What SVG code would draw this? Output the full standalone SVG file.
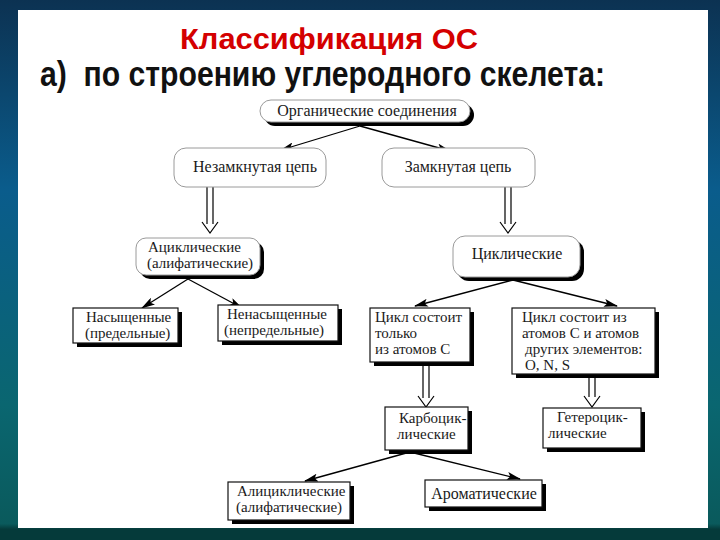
<svg xmlns="http://www.w3.org/2000/svg" width="720" height="540" viewBox="0 0 720 540">
<defs>
<linearGradient id="bg" x1="0" y1="0" x2="0" y2="1">
<stop offset="0" stop-color="#0c3252"/>
<stop offset="0.35" stop-color="#0a5c8c"/>
<stop offset="0.75" stop-color="#0a6670"/>
<stop offset="0.97" stop-color="#0a5a5c"/>
<stop offset="0.98" stop-color="#053a3a"/>
<stop offset="1" stop-color="#053a3a"/>
</linearGradient>
<marker id="ah" markerWidth="14" markerHeight="8" refX="13" refY="4" orient="auto" markerUnits="userSpaceOnUse">
<path d="M0,0 L14,4 L0,8 L3,4 Z" fill="#000"/>
</marker>
<style>
.t{font-family:"Liberation Serif","DejaVu Serif",serif;font-size:16px;fill:#1a1a1a}
.m{font-size:15px}
.c{text-anchor:middle}
.rb{fill:#fff;stroke:#9a9a9a;stroke-width:1}
.sb{fill:#fff;stroke:#111;stroke-width:1.2}
.sh{fill:#000}
.ln{stroke:#000;stroke-width:1.3;fill:none}
.dbl{stroke:#000;stroke-width:1.2;fill:none}
</style>
</defs>
<rect x="0" y="0" width="720" height="540" fill="url(#bg)"/>
<rect x="18" y="10" width="690" height="518" fill="#fff"/>
<text x="329" y="49" text-anchor="middle" font-family="Liberation Sans, Arial, sans-serif" font-weight="bold" font-size="29" fill="#d40000" textLength="298" lengthAdjust="spacingAndGlyphs">Классификация ОС</text>
<text x="40" y="86" font-family="Liberation Sans, Arial, sans-serif" font-weight="bold" font-size="35" fill="#111" textLength="565" lengthAdjust="spacingAndGlyphs" xml:space="preserve">а)  по строению углеродного скелета:</text>

<g id="connectors">
<line class="ln" x1="360" y1="126" x2="281" y2="150" marker-end="url(#ah)"/>
<line class="ln" x1="360" y1="126" x2="450" y2="151" marker-end="url(#ah)"/>
<path class="dbl" d="M207,187 V224 M213,187 V224 M202,222 L210,233 L218,222"/>
<path class="dbl" d="M505,187 V224 M511,187 V224 M500,222 L508,233 L516,222"/>
<line class="ln" x1="188" y1="279" x2="142" y2="308" marker-end="url(#ah)"/>
<line class="ln" x1="188" y1="279" x2="242" y2="308" marker-end="url(#ah)"/>
<line class="ln" x1="513" y1="280" x2="415" y2="306" marker-end="url(#ah)"/>
<line class="ln" x1="513" y1="280" x2="617" y2="306" marker-end="url(#ah)"/>
<path class="dbl" d="M423,366 V398 M429,366 V398 M418,396 L426,407 L434,396"/>
<path class="dbl" d="M589,378 V397 M595,378 V397 M584,396 L592,407 L600,396"/>
<line class="ln" x1="410" y1="452" x2="305" y2="481" marker-end="url(#ah)"/>
<line class="ln" x1="410" y1="452" x2="520" y2="479" marker-end="url(#ah)"/>
</g>

<g id="n1">
<rect class="sh" x="264" y="104" width="210" height="22" rx="11"/>
<rect class="rb" x="260" y="100" width="210" height="22" rx="11"/>
<text class="t c" x="367" y="116">Органические соединения</text>
</g>
<g id="n2">
<rect class="rb" x="174" y="148" width="152" height="39" rx="12"/>
<text class="t c" x="255" y="172">Незамкнутая цепь</text>
</g>
<g id="n3">
<rect class="rb" x="382" y="148" width="153" height="39" rx="12"/>
<text class="t c" x="458" y="172">Замкнутая цепь</text>
</g>
<g id="n4">
<rect class="sh" x="140" y="242" width="124" height="37" rx="10"/>
<rect class="rb" x="136" y="238" width="124" height="37" rx="10"/>
<text class="t m" x="148" y="252">Ациклические</text>
<text class="t m" x="147" y="268">(алифатические)</text>
</g>
<g id="n5">
<rect class="sh" x="457" y="240" width="127" height="41" rx="12"/>
<rect class="rb" x="453" y="236" width="127" height="41" rx="12"/>
<text class="t c" x="517" y="259">Циклические</text>
</g>
<g id="n6">
<rect class="sh" x="77" y="312" width="105" height="35"/>
<rect class="sb" x="73" y="308" width="105" height="35"/>
<text class="t m" x="86" y="322">Насыщенные</text>
<text class="t m" x="85" y="338">(предельные)</text>
</g>
<g id="n7">
<rect class="sh" x="222" y="309" width="120" height="36"/>
<rect class="sb" x="218" y="305" width="120" height="36"/>
<text class="t m" x="227" y="319">Ненасыщенные</text>
<text class="t m" x="224" y="335">(непредельные)</text>
</g>
<g id="n8">
<rect class="sh" x="374" y="312" width="100" height="54"/>
<rect class="sb" x="370" y="308" width="100" height="54"/>
<text class="t m" x="375" y="322">Цикл состоит</text>
<text class="t m" x="375" y="338">только</text>
<text class="t m" x="375" y="354">из атомов С</text>
</g>
<g id="n9">
<rect class="sh" x="516" y="312" width="143" height="66"/>
<rect class="sb" x="512" y="308" width="143" height="66"/>
<text class="t m" x="522" y="322">Цикл состоит из</text>
<text class="t m" x="522" y="338">атомов С и атомов</text>
<text class="t m" x="525" y="354">других элементов:</text>
<text class="t m" x="525" y="370">O, N, S</text>
</g>
<g id="n10">
<rect class="sh" x="389" y="411" width="83" height="43"/>
<rect class="sb" x="385" y="407" width="83" height="43"/>
<text class="t m" x="399" y="423">Карбоцик-</text>
<text class="t m" x="397" y="439">лические</text>
</g>
<g id="n11">
<rect class="sh" x="547" y="412" width="98" height="40"/>
<rect class="sb" x="543" y="408" width="98" height="40"/>
<text class="t m" x="557" y="422">Гетероцик-</text>
<text class="t m" x="548" y="438">лические</text>
</g>
<g id="n12">
<rect class="sh" x="232" y="486" width="122" height="38"/>
<rect class="sb" x="228" y="482" width="122" height="38"/>
<text class="t m" x="237" y="496">Алициклические</text>
<text class="t m" x="236" y="512">(алифатические)</text>
</g>
<g id="n13">
<rect class="sh" x="429" y="484" width="117" height="27"/>
<rect class="sb" x="425" y="480" width="117" height="27"/>
<text class="t c" x="484" y="499">Ароматические</text>
</g>
</svg>
